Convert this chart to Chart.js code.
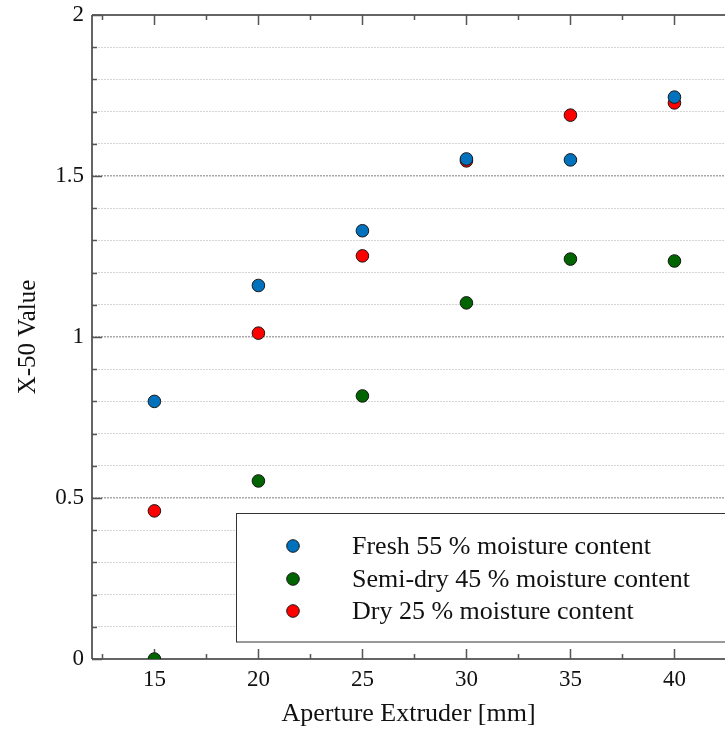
<!DOCTYPE html>
<html>
<head>
<meta charset="utf-8">
<script src="https://cdn.jsdelivr.net/npm/chart.js@4/dist/chart.umd.min.js"></script>
<style>
  html, body { margin: 0; padding: 0; background: #fff; }
  #wrap { width: 725px; height: 733px; }
</style>
</head>
<body>
<div id="wrap"><canvas id="c" width="725" height="733"></canvas></div>
<script>
// ---- data ----
const apertures = [15, 20, 25, 30, 35, 40];
const fresh = [0.80, 1.16, 1.33, 1.553, 1.55, 1.745];
const semiDry = [0.0, 0.553, 0.817, 1.106, 1.242, 1.236];
const dry = [0.46, 1.012, 1.252, 1.547, 1.689, 1.727];
const seriesNames = ['Fresh 55 % moisture content', 'Semi-dry 45 % moisture content', 'Dry 25 % moisture content'];
const xMajorTicks = [15, 20, 25, 30, 35, 40];
const xMinorTicks = [12.5, 17.5, 22.5, 27.5, 32.5, 37.5, 42.5];
const yLabelTicks = ['0', '0.5', '1', '1.5', '2'];

const colors = ['#0072BD', '#006400', '#FF0000'];
const FONT = '"Liberation Serif", "Times New Roman", serif';

function toPoints(vals) { return apertures.map((x, i) => ({ x: x, y: vals[i] })); }

const seriesData = [fresh, semiDry, dry];
const datasets = seriesData.map((vals, i) => ({
  label: seriesNames[i],
  data: toPoints(vals),
  backgroundColor: colors[i],
  borderColor: '#1a1a1a',
  borderWidth: 1,
  pointRadius: 6.3,
  pointHoverRadius: 6.3,
  showLine: false,
  clip: 0
}));

// plugin: frame, inward ticks, legend box
const decor = {
  id: 'decor',
  beforeDatasetsDraw(chart) {
    const { ctx, chartArea: a } = chart;
    const xs = chart.scales.x, ys = chart.scales.y;
    ctx.save();
    ctx.strokeStyle = '#333';
    ctx.lineWidth = 1.5;
    // frame
    ctx.beginPath();
    ctx.moveTo(a.left, a.top); ctx.lineTo(a.right + 2, a.top);
    ctx.moveTo(a.left, a.top); ctx.lineTo(a.left, a.bottom);
    ctx.moveTo(a.left, a.bottom); ctx.lineTo(a.right + 2, a.bottom);
    ctx.stroke();
    // x ticks (bottom up, top down)
    ctx.strokeStyle = '#555';
    ctx.lineWidth = 1.5;
    ctx.beginPath();
    xMajorTicks.forEach(v => {
      const p = Math.round(xs.getPixelForValue(v)) + 0.5;
      ctx.moveTo(p, a.bottom); ctx.lineTo(p, a.bottom - 10);
      ctx.moveTo(p, a.top); ctx.lineTo(p, a.top + 10);
    });
    xMinorTicks.forEach(v => {
      const p = Math.round(xs.getPixelForValue(v)) + 0.5;
      ctx.moveTo(p, a.bottom); ctx.lineTo(p, a.bottom - 5);
      ctx.moveTo(p, a.top); ctx.lineTo(p, a.top + 5);
    });
    // y ticks (left, pointing right)
    ys.ticks.forEach(t => {
      const p = Math.round(ys.getPixelForValue(t.value)) + 0.5;
      const major = Math.round(t.value * 10) % 5 === 0;
      ctx.moveTo(a.left, p); ctx.lineTo(a.left + (major ? 10 : 5), p);
    });
    ctx.stroke();
    ctx.restore();
  },
  afterDatasetsDraw(chart) {
    const { ctx } = chart;
    ctx.save();
    // legend box
    const bx = 236.5, by = 513.5, bw = 500, bh = 128.5;
    ctx.fillStyle = '#fff';
    ctx.fillRect(bx, by, bw, bh);
    ctx.strokeStyle = '#333';
    ctx.lineWidth = 1;
    ctx.strokeRect(bx, by, bw, bh);
    const rows = [546, 579, 611];
    chart.data.datasets.forEach((ds, i) => {
      ctx.beginPath();
      ctx.arc(293, rows[i], 6.3, 0, Math.PI * 2);
      ctx.fillStyle = ds.backgroundColor;
      ctx.fill();
      ctx.strokeStyle = '#1a1a1a';
      ctx.lineWidth = 1;
      ctx.stroke();
      ctx.fillStyle = '#111';
      ctx.font = '26px ' + FONT;
      ctx.textBaseline = 'middle';
      ctx.textAlign = 'left';
      ctx.fillText(ds.label, 352, rows[i] + 1);
    });
    ctx.restore();
  }
};

new Chart(document.getElementById('c'), {
  type: 'scatter',
  data: { datasets: datasets },
  options: {
    responsive: false,
    animation: false,
    events: [],
    layout: { autoPadding: false, padding: { top: 15, right: 0, left: 0, bottom: 0 } },
    plugins: { legend: { display: false }, tooltip: { enabled: false } },
    scales: {
      x: {
        type: 'linear',
        min: 12,
        max: 42.43,
        afterBuildTicks(scale) { scale.ticks = xMajorTicks.map(v => ({ value: v })); },
        afterFit(scale) {
          scale.height = 74;
          scale.paddingLeft = 0; scale.paddingRight = 0;
        },
        grid: { display: false, drawTicks: false },
        border: { display: false },
        ticks: {
          color: '#111',
          padding: 7,
          font: { family: FONT, size: 23 },
          maxRotation: 0,
          autoSkip: false,
          callback: v => String(v)
        },
        title: {
          display: true,
          text: 'Aperture Extruder [mm]',
          color: '#111',
          font: { family: FONT, size: 26 },
          padding: { top: 0, bottom: 3 }
        }
      },
      y: {
        type: 'linear',
        min: 0,
        max: 2,
        afterFit(scale) {
          scale.width = 92;
          scale.paddingTop = 0; scale.paddingBottom = 0;
        },
        grid: {
          drawTicks: false,
          color: ctx => {
            const v = ctx.tick ? ctx.tick.value : 0;
            if (v <= 0.001 || v >= 1.999) return 'rgba(0,0,0,0)';
            return Math.round(v * 10) % 5 === 0 ? '#a8a8a8' : '#d4d4d4';
          },
          lineWidth: ctx => {
            const v = ctx.tick ? ctx.tick.value : 0;
            return Math.round(v * 10) % 5 === 0 ? 1.5 : 1;
          }
        },
        border: { display: false, dash: [2, 1] },
        ticks: {
          stepSize: 0.1,
          color: '#111',
          padding: 8,
          autoSkip: false,
          font: { family: FONT, size: 23 },
          callback: v => {
            const k = Math.round(v * 10);
            if (k % 5 !== 0) return '';
            return yLabelTicks[k / 5];
          }
        },
        title: {
          display: true,
          text: 'X-50 Value',
          color: '#111',
          font: { family: FONT, size: 25 },
          padding: { top: 13, bottom: 0 }
        }
      }
    }
  },
  plugins: [decor]
});
</script>
</body>
</html>
